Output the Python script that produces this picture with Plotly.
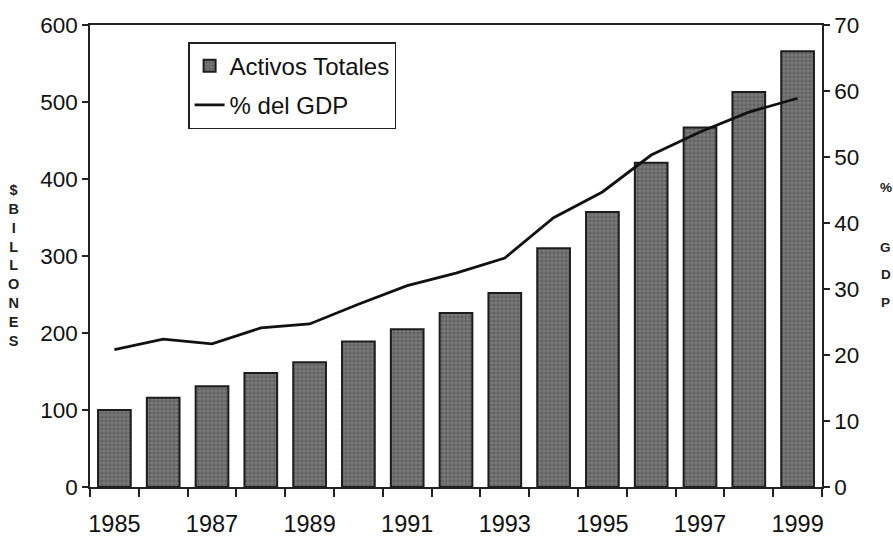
import plotly.graph_objects as go

# Total assets (billions) and share of GDP (%), 1985-1999
years = [1985, 1986, 1987, 1988, 1989, 1990, 1991, 1992, 1993, 1994,
         1995, 1996, 1997, 1998, 1999]
activos_totales = [100, 116, 131, 148, 162, 189, 205, 226, 252, 310,
                   357, 421, 467, 513, 566]
pct_gdp = [20.8, 22.4, 21.7, 24.1, 24.7, 27.7, 30.5, 32.4, 34.7, 40.8,
           44.7, 50.3, 53.8, 56.8, 58.9]
year_labels = [str(y) for y in years[::2]]

font_family = "Liberation Sans, Arial, sans-serif"
tick_size = 22.5

fig = go.Figure()

fig.add_trace(go.Bar(
    x=years, y=activos_totales, name="Activos Totales",
    width=0.67, legendgroup="a",
    marker=dict(
        color="#737373",
        line=dict(color="#1c1c1c", width=2),
        pattern=dict(shape="+", fgcolor="#b0b0b0", bgcolor="#626262",
                     size=4, solidity=0.3),
    ),
    yaxis="y",
))

fig.add_trace(go.Scatter(
    x=years, y=pct_gdp, name="% del GDP", mode="lines",
    legendgroup="b",
    line=dict(color="#111111", width=2.8),
    yaxis="y2",
))

fig.update_layout(
    width=893, height=543,
    margin=dict(l=90, r=71, t=25, b=56),
    paper_bgcolor="white", plot_bgcolor="white",
    font=dict(family=font_family, color="#111111", size=tick_size),
    showlegend=True,
    legend=dict(
        x=0.134, y=0.963, xanchor="left", yanchor="top",
        bgcolor="white", bordercolor="#222222", borderwidth=1.5,
        font=dict(size=24, family=font_family),
        traceorder="grouped", tracegroupgap=5,
    ),
    bargap=0.33,
    xaxis=dict(
        range=[1984.5, 1999.5], automargin=False,
        tickmode="array", tickvals=years[::2], ticktext=year_labels,
        ticks="", ticklabelstandoff=15,
        showgrid=False, zeroline=False,
        showline=True, linecolor="#222222", linewidth=1.5, mirror=True,
        minor=dict(tick0=1984.5, dtick=1, ticks="outside", ticklen=8,
                   tickcolor="#222222", tickwidth=1.5, showgrid=False),
        tickfont=dict(size=23.5),
    ),
    yaxis=dict(
        range=[0, 600], dtick=100, automargin=False,
        ticks="outside", ticklen=6, tickcolor="#222222", tickwidth=1.5,
        showgrid=False, zeroline=False,
        showline=True, linecolor="#222222", linewidth=1.5,
        tickfont=dict(size=tick_size),
    ),
    yaxis2=dict(
        range=[0, 70], dtick=10, overlaying="y", side="right",
        automargin=False,
        ticks="outside", ticklen=6, tickcolor="#222222", tickwidth=1.5,
        showgrid=False, zeroline=False,
        showline=True, linecolor="#222222", linewidth=1.5,
        tickfont=dict(size=tick_size),
    ),
)

# Stacked-letter axis titles
fig.add_annotation(
    text="<b>$<br>B<br>I<br>L<br>L<br>O<br>N<br>E<br>S</b>",
    xref="paper", yref="paper", x=-0.105, y=0.48,
    xanchor="center", yanchor="middle", showarrow=False,
    font=dict(size=14.5, family=font_family, color="#222222"),
)
for letter, yp in [("%", 0.648), ("G", 0.519), ("D", 0.459), ("P", 0.400)]:
    fig.add_annotation(
        text="<b>" + letter + "</b>", xref="paper", yref="paper",
        x=1.087, y=yp,
        xanchor="center", yanchor="middle", showarrow=False,
        font=dict(size=13.5, family=font_family, color="#222222"),
    )

fig.write_html("out.html")
